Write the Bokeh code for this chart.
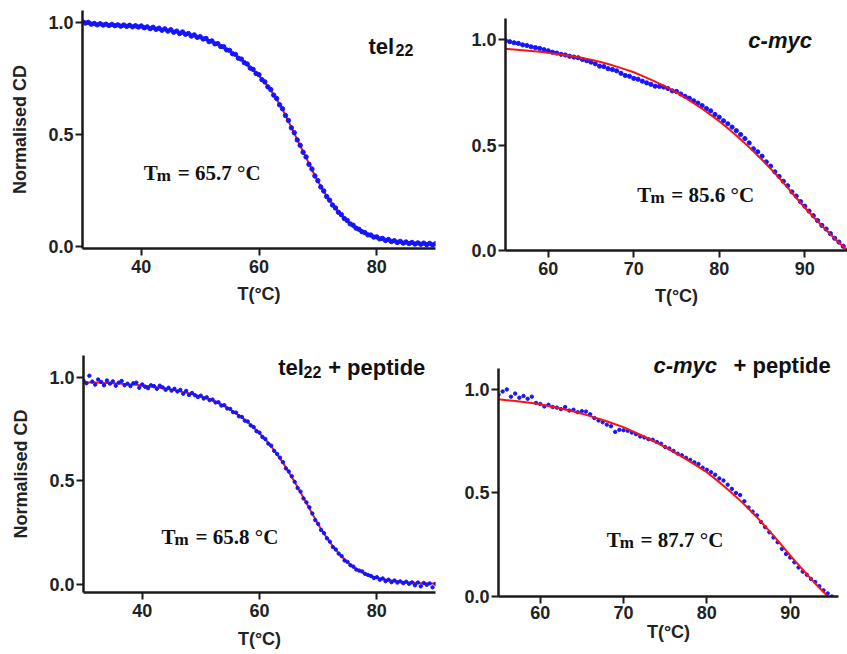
from bokeh.plotting import figure
from bokeh.layouts import column, row
from bokeh.models import Range1d, FixedTicker, Label, PrintfTickFormatter
from bokeh.embed import file_html
from bokeh.resources import INLINE

# ---------------- data ----------------
scan_T_tel = [30.0, 30.5, 31.0, 31.5, 32.0, 32.5, 33.0, 33.5, 34.0, 34.5,
              35.0, 35.5, 36.0, 36.5, 37.0, 37.5, 38.0, 38.5, 39.0, 39.5,
              40.0, 40.5, 41.0, 41.5, 42.0, 42.5, 43.0, 43.5, 44.0, 44.5,
              45.0, 45.5, 46.0, 46.5, 47.0, 47.5, 48.0, 48.5, 49.0, 49.5,
              50.0, 50.5, 51.0, 51.5, 52.0, 52.5, 53.0, 53.5, 54.0, 54.5,
              55.0, 55.5, 56.0, 56.5, 57.0, 57.5, 58.0, 58.5, 59.0, 59.5,
              60.0, 60.5, 61.0, 61.5, 62.0, 62.5, 63.0, 63.5, 64.0, 64.5,
              65.0, 65.5, 66.0, 66.5, 67.0, 67.5, 68.0, 68.5, 69.0, 69.5,
              70.0, 70.5, 71.0, 71.5, 72.0, 72.5, 73.0, 73.5, 74.0, 74.5,
              75.0, 75.5, 76.0, 76.5, 77.0, 77.5, 78.0, 78.5, 79.0, 79.5,
              80.0, 80.5, 81.0, 81.5, 82.0, 82.5, 83.0, 83.5, 84.0, 84.5,
              85.0, 85.5, 86.0, 86.5, 87.0, 87.5, 88.0, 88.5, 89.0, 89.5,
              90.0]

scan_T_myc = [55.0, 55.5, 56.0, 56.5, 57.0, 57.5, 58.0, 58.5, 59.0, 59.5,
              60.0, 60.5, 61.0, 61.5, 62.0, 62.5, 63.0, 63.5, 64.0, 64.5,
              65.0, 65.5, 66.0, 66.5, 67.0, 67.5, 68.0, 68.5, 69.0, 69.5,
              70.0, 70.5, 71.0, 71.5, 72.0, 72.5, 73.0, 73.5, 74.0, 74.5,
              75.0, 75.5, 76.0, 76.5, 77.0, 77.5, 78.0, 78.5, 79.0, 79.5,
              80.0, 80.5, 81.0, 81.5, 82.0, 82.5, 83.0, 83.5, 84.0, 84.5,
              85.0, 85.5, 86.0, 86.5, 87.0, 87.5, 88.0, 88.5, 89.0, 89.5,
              90.0, 90.5, 91.0, 91.5, 92.0, 92.5, 93.0, 93.5, 94.0, 94.5,
              95.0]

fit_T_tel = [30, 31, 32, 33, 34, 35, 36, 37, 38, 39,
             40, 41, 42, 43, 44, 45, 46, 47, 48, 49,
             50, 51, 52, 53, 54, 55, 56, 57, 58, 59,
             60, 61, 62, 63, 64, 65, 66, 67, 68, 69,
             70, 71, 72, 73, 74, 75, 76, 77, 78, 79,
             80, 81, 82, 83, 84, 85, 86, 87, 88, 89, 90]

fit_T_myc = [55, 56, 57, 58, 59, 60, 61, 62, 63, 64,
             65, 66, 67, 68, 69, 70, 71, 72, 73, 74,
             75, 76, 77, 78, 79, 80, 81, 82, 83, 84,
             85, 86, 87, 88, 89, 90, 91, 92, 93, 94, 95]

fit_T_myc_pep = [55, 56, 57, 58, 59, 60, 61, 62, 63, 64,
                 65, 66, 67, 68, 69, 70, 71, 72, 73, 74,
                 75, 76, 77, 78, 79, 80, 81, 82, 83, 84,
                 85, 86, 87, 88, 89, 90, 91, 92, 93, 94, 94.5]

# tel22 (panel a)
tel_scan = [1.004, 0.998, 1.001, 0.993, 0.996, 0.990, 0.995, 0.989, 0.993, 0.987,
            0.992, 0.986, 0.990, 0.984, 0.989, 0.983, 0.988, 0.981, 0.986, 0.980,
            0.985, 0.977, 0.981, 0.973, 0.979, 0.970, 0.975, 0.966, 0.972, 0.962,
            0.968, 0.957, 0.962, 0.951, 0.958, 0.948, 0.951, 0.940, 0.945, 0.934,
            0.937, 0.927, 0.929, 0.915, 0.918, 0.905, 0.906, 0.893, 0.892, 0.878,
            0.876, 0.861, 0.858, 0.841, 0.837, 0.821, 0.815, 0.797, 0.791, 0.773,
            0.767, 0.745, 0.735, 0.713, 0.701, 0.676, 0.661, 0.633, 0.615, 0.585,
            0.563, 0.530, 0.508, 0.476, 0.452, 0.421, 0.400, 0.367, 0.346, 0.315,
            0.294, 0.266, 0.248, 0.223, 0.207, 0.185, 0.172, 0.153, 0.142, 0.125,
            0.116, 0.101, 0.095, 0.082, 0.077, 0.066, 0.062, 0.052, 0.051, 0.042,
            0.043, 0.034, 0.036, 0.027, 0.031, 0.022, 0.026, 0.018, 0.023, 0.015,
            0.020, 0.013, 0.018, 0.011, 0.016, 0.010, 0.015, 0.008, 0.014, 0.007,
            0.012]
tel_fit = [0.995, 0.994, 0.993, 0.992, 0.991, 0.990, 0.989, 0.988, 0.986, 0.984,
           0.982, 0.979, 0.976, 0.973, 0.969, 0.965, 0.960, 0.955, 0.949, 0.942,
           0.935, 0.926, 0.915, 0.903, 0.890, 0.873, 0.855, 0.834, 0.812, 0.788,
           0.763, 0.732, 0.698, 0.658, 0.612, 0.560, 0.505, 0.450, 0.398, 0.343,
           0.292, 0.246, 0.205, 0.170, 0.140, 0.114, 0.093, 0.075, 0.060, 0.049,
           0.040, 0.033, 0.028, 0.024, 0.020, 0.018, 0.016, 0.014, 0.013, 0.012, 0.011]

# c-myc (panel b)
myc_scan = [0.995, 0.990, 0.985, 0.982, 0.975, 0.972, 0.966, 0.962, 0.958, 0.952,
            0.947, 0.940, 0.936, 0.930, 0.927, 0.921, 0.917, 0.914, 0.906, 0.900,
            0.893, 0.885, 0.874, 0.872, 0.862, 0.858, 0.852, 0.840, 0.830, 0.826,
            0.816, 0.812, 0.803, 0.795, 0.788, 0.779, 0.778, 0.775, 0.768, 0.757,
            0.754, 0.742, 0.731, 0.722, 0.710, 0.699, 0.687, 0.673, 0.662, 0.645,
            0.632, 0.615, 0.601, 0.585, 0.568, 0.550, 0.531, 0.510, 0.482, 0.468,
            0.447, 0.420, 0.400, 0.373, 0.351, 0.328, 0.307, 0.278, 0.258, 0.232,
            0.210, 0.187, 0.165, 0.142, 0.119, 0.102, 0.080, 0.058, 0.040, 0.020,
            0.002]
myc_fit = [0.956, 0.953, 0.950, 0.946, 0.942, 0.937, 0.932, 0.926, 0.920, 0.913,
           0.905, 0.895, 0.884, 0.872, 0.859, 0.845, 0.828, 0.810, 0.791, 0.771,
           0.750, 0.725, 0.699, 0.672, 0.643, 0.613, 0.580, 0.545, 0.508, 0.470,
           0.430, 0.388, 0.344, 0.298, 0.250, 0.204, 0.160, 0.118, 0.077, 0.038,
           0.000]

# tel22 + peptide (panel c)
telpep_scan = [0.985, 0.972, 1.008, 0.980, 0.965, 0.990, 0.978, 0.962, 0.985, 0.970,
               0.981, 0.960, 0.975, 0.983, 0.962, 0.970, 0.958, 0.972, 0.975, 0.950,
               0.966, 0.955, 0.948, 0.962, 0.958, 0.945, 0.960, 0.952, 0.940, 0.950,
               0.936, 0.945, 0.932, 0.940, 0.921, 0.935, 0.915, 0.925, 0.914, 0.905,
               0.912, 0.898, 0.904, 0.890, 0.893, 0.879, 0.880, 0.864, 0.866, 0.850,
               0.848, 0.832, 0.830, 0.812, 0.809, 0.791, 0.787, 0.768, 0.760, 0.740,
               0.733, 0.712, 0.702, 0.680, 0.670, 0.645, 0.630, 0.612, 0.590, 0.560,
               0.545, 0.522, 0.495, 0.465, 0.448, 0.415, 0.396, 0.372, 0.342, 0.310,
               0.292, 0.262, 0.247, 0.222, 0.206, 0.180, 0.168, 0.148, 0.136, 0.115,
               0.108, 0.092, 0.085, 0.071, 0.066, 0.062, 0.050, 0.045, 0.040, 0.030,
               0.034, 0.022, 0.028, 0.015, 0.022, 0.010, 0.018, 0.008, 0.014, 0.005,
               0.012, 0.002, 0.009, -0.005, 0.008, -0.010, 0.006, -0.003, 0.004, -0.015,
               0.002]
telpep_fit = [0.977, 0.976, 0.975, 0.974, 0.973, 0.972, 0.970, 0.968, 0.966, 0.964,
              0.961, 0.958, 0.954, 0.950, 0.946, 0.941, 0.935, 0.929, 0.923, 0.916,
              0.908, 0.899, 0.889, 0.876, 0.862, 0.845, 0.826, 0.806, 0.783, 0.758,
              0.730, 0.700, 0.666, 0.628, 0.587, 0.542, 0.494, 0.444, 0.393, 0.341,
              0.290, 0.244, 0.203, 0.166, 0.134, 0.106, 0.083, 0.065, 0.051, 0.040,
              0.032, 0.025, 0.020, 0.016, 0.013, 0.010, 0.008, 0.006, 0.005, 0.004, 0.003]

# c-myc + peptide (panel d)
mycpep_scan = [0.975, 0.990, 1.000, 0.965, 0.980, 0.960, 0.968, 0.955, 0.965, 0.935,
               0.930, 0.918, 0.926, 0.915, 0.912, 0.905, 0.915, 0.898, 0.902, 0.890,
               0.895, 0.893, 0.880, 0.862, 0.850, 0.842, 0.830, 0.822, 0.795, 0.805,
               0.803, 0.800, 0.792, 0.784, 0.773, 0.768, 0.760, 0.757, 0.746, 0.738,
               0.722, 0.715, 0.703, 0.690, 0.682, 0.670, 0.660, 0.648, 0.640, 0.622,
               0.612, 0.600, 0.588, 0.570, 0.560, 0.540, 0.520, 0.500, 0.490, 0.460,
               0.430, 0.410, 0.392, 0.360, 0.335, 0.310, 0.285, 0.262, 0.230, 0.205,
               0.188, 0.165, 0.140, 0.120, 0.105, 0.085, 0.070, 0.050, 0.030, 0.015,
               0.000]
mycpep_fit = [0.952, 0.948, 0.944, 0.939, 0.934, 0.928, 0.920, 0.912, 0.903, 0.893,
              0.883, 0.871, 0.859, 0.846, 0.832, 0.818, 0.800, 0.781, 0.762, 0.742,
              0.721, 0.698, 0.675, 0.651, 0.626, 0.600, 0.568, 0.535, 0.500, 0.463,
              0.425, 0.383, 0.339, 0.294, 0.247, 0.198, 0.153, 0.108, 0.063, 0.022,
              0.000]

tel_ticks = [40, 60, 80]
myc_ticks = [60, 70, 80, 90]
y_ticks = [0.0, 0.5, 1.0]

tm_values = ["65.7", "85.6", "65.8", "87.7"]

# ---------------- styling ----------------
SANS = "Liberation Sans"
SERIF = "Liberation Serif"
BLUE = "#1414ff"
RED = "#ff1010"
AXIS = "#1a1a1a"


def make_panel(width, height, xr, yr, xticks, borders, ylabel,
               xlabel_standoff, ybounds=None, xtick_standoff=4):
    left, right, top, bottom = borders
    p = figure(width=width, height=height,
               x_range=Range1d(*xr), y_range=Range1d(*yr),
               output_backend="svg", toolbar_location=None,
               min_border_left=left, min_border_right=right,
               min_border_top=top, min_border_bottom=bottom)
    p.outline_line_color = None
    p.grid.visible = False
    p.background_fill_color = "white"
    p.border_fill_color = "white"
    for ax in (p.xaxis[0], p.yaxis[0]):
        ax.axis_line_width = 2.5
        ax.axis_line_color = AXIS
        ax.major_tick_line_width = 2
        ax.major_tick_line_color = AXIS
        ax.major_tick_out = 7
        ax.major_tick_in = 0
        ax.minor_tick_line_color = None
        ax.major_label_text_font = SANS
        ax.major_label_text_font_style = "bold"
        ax.major_label_text_font_size = "18px"
        ax.major_label_text_color = "#222222"
        ax.axis_label_text_font = SANS
        ax.axis_label_text_font_style = "bold"
        ax.axis_label_text_font_size = "18px"
        ax.axis_label_text_color = "#222222"
    p.xaxis[0].ticker = FixedTicker(ticks=xticks)
    p.yaxis[0].ticker = FixedTicker(ticks=y_ticks)
    p.yaxis[0].formatter = PrintfTickFormatter(format="%.1f")
    if ybounds is not None:
        p.yaxis[0].bounds = ybounds
    p.xaxis[0].axis_label = "T(°C)"
    p.xaxis[0].major_label_standoff = xtick_standoff
    p.xaxis[0].axis_label_standoff = xlabel_standoff
    p.yaxis[0].major_label_standoff = 2
    if ylabel:
        p.yaxis[0].axis_label = ylabel
        p.yaxis[0].axis_label_standoff = 15
    return p


def add_label(p, x, y, text, font, size, style, color="#111111"):
    p.add_layout(Label(x=x, y=y, text=text, text_font=font,
                       text_font_size=size, text_font_style=style,
                       text_color=color, text_align="left",
                       text_baseline="alphabetic"))


def add_tm(p, pos, tm):
    (xt, yt), (xm, ym), (xr_, yr_) = pos
    add_label(p, xt, yt, "T", SERIF, "21px", "bold")
    add_label(p, xm, ym, "m", SERIF, "17px", "bold")
    add_label(p, xr_, yr_, "= " + tm + " °C", SERIF, "21px", "bold")


# panel a: tel22
p1 = make_panel(440, 320, (30, 90), (-0.009, 1.054), tel_ticks,
                (82, 5, 10, 72), "Normalised CD", 8)
p1.line(fit_T_tel, tel_fit, line_color=RED, line_width=2)
p1.scatter(scan_T_tel, tel_scan, size=4.4, color=BLUE)
add_label(p1, 78.6, 0.895, "tel", SANS, "22px", "bold")
add_label(p1, 83.2, 0.876, "22", SANS, "16px", "bold")
add_tm(p1, ((40.4, 0.330), (42.6, 0.316), (46.2, 0.330)), tm_values[0])

# panel b: c-myc
p2 = make_panel(407, 320, (55, 95), (0.0, 1.1), myc_ticks,
                (65, 0, 18, 70), None, 8)
p2.scatter(scan_T_myc, myc_scan, size=4.2, color=BLUE)
p2.line(fit_T_myc, myc_fit, line_color=RED, line_width=2)
add_label(p2, 83.4, 0.996, "c-myc", SANS, "22px", "bold italic")
add_tm(p2, ((70.4, 0.264), (71.95, 0.250), (74.4, 0.264)), tm_values[1])

# panel c: tel22 + peptide
p3 = make_panel(440, 334, (30, 90), (-0.04, 1.106), tel_ticks,
                (83, 5, 35, 62), "Normalised CD", 9)
p3.line(fit_T_tel, telpep_fit, line_color=RED, line_width=2)
p3.scatter(scan_T_tel, telpep_scan, size=3.4, color=BLUE)
add_label(p3, 63.2, 1.046, "tel", SANS, "22px", "bold")
add_label(p3, 67.5, 1.027, "22", SANS, "16px", "bold")
add_label(p3, 71.7, 1.046, "+ peptide", SANS, "22px", "bold")
add_tm(p3, ((43.3, 0.230), (45.5, 0.216), (49.1, 0.230)), tm_values[2])

# panel d: c-myc + peptide (frame extended upward so the title is not clipped;
# the axis line itself stops at 1.1)
p4 = make_panel(407, 334, (55, 95.8), (0.0, 1.188), myc_ticks,
                (58, 9, 30, 58), None, 0, ybounds=(0.0, 1.1), xtick_standoff=2)
p4.scatter(scan_T_myc, mycpep_scan, size=3.4, color=BLUE)
p4.line(fit_T_myc_pep, mycpep_fit, line_color=RED, line_width=2)
add_label(p4, 73.6, 1.116, "c-myc", SANS, "22px", "bold italic")
add_label(p4, 83.2, 1.116, "+ peptide", SANS, "22px", "bold")
add_tm(p4, ((68.0, 0.274), (69.55, 0.259), (72.05, 0.274)), tm_values[3])

# each figure wrapped in its own column so frames are not aligned across a row
layout = column(row(column(p1), column(p2)), row(column(p3), column(p4)))

with open("out.html", "w") as f:
    f.write(file_html(layout, INLINE))
